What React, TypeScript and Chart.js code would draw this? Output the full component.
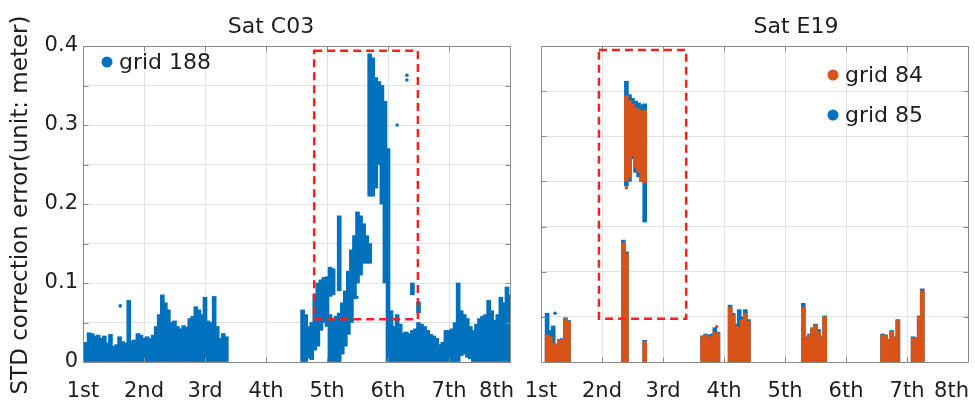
import React, { useEffect, useRef } from 'react';
import { Chart, registerables } from 'chart.js';

Chart.register(...registerables);

// ---------- labels ----------
const dayLabels = ['1st', '2nd', '3rd', '4th', '5th', '6th', '7th', '8th'];
const yTickLabels = ['0', '0.1', '0.2', '0.3', '0.4'];
const yAxisTitle = 'STD correction error(unit: meter)';
const c03Title = 'Sat C03';
const e19Title = 'Sat E19';

// ---------- Sat C03, grid 188 (dense point cloud read as low/high per time slot) ----------
const c03Day = [
  1.0, 1.05, 1.1, 1.15, 1.2, 1.25, 1.3, 1.35, 1.4, 1.45, 1.5, 1.55, 1.6, 1.65, 1.7, 1.75, 1.8, 1.85, 1.9, 1.95,
  2.0, 2.05, 2.1, 2.15, 2.2, 2.25, 2.3, 2.35, 2.4, 2.45, 2.5, 2.55, 2.6, 2.65, 2.7, 2.75, 2.8, 2.85, 2.9, 2.95,
  3.0, 3.05, 3.1, 3.15, 3.2, 3.25, 3.3, 3.35,
  4.6, 4.65, 4.7, 4.75, 4.8, 4.85, 4.9, 4.95, 5.0, 5.05, 5.1, 5.15, 5.2, 5.25, 5.3, 5.35, 5.4, 5.45, 5.5, 5.55,
  5.6, 5.65, 5.7, 5.75, 5.8, 5.85, 5.9, 5.95, 6.0,
  6.05, 6.1, 6.15, 6.2, 6.25, 6.3, 6.35, 6.4, 6.45, 6.5, 6.55, 6.6, 6.65, 6.7, 6.75, 6.8, 6.85, 6.9, 6.95, 7.0,
  7.05, 7.1, 7.15, 7.2, 7.25, 7.3, 7.35, 7.4, 7.45, 7.5, 7.55, 7.6, 7.65, 7.7, 7.75, 7.8, 7.85, 7.9, 7.95, 8.0,
];
const c03Low = [
  0, 0, 0, 0, 0, 0, 0, 0, 0, 0, 0, 0, 0, 0, 0, 0, 0, 0, 0, 0,
  0, 0, 0, 0, 0, 0, 0, 0, 0, 0, 0, 0, 0, 0, 0, 0, 0, 0, 0, 0,
  0, 0, 0, 0, 0, 0, 0, 0,
  0, 0, 0.005, 0.003, 0.015, 0.02, 0.04, 0.05, 0.045, 0, 0, 0, 0, 0.01, 0.02, 0.035, 0.05, 0.08, 0.1, 0.11,
  0.125, 0.125, 0.125, 0.21, 0.22, 0.25, 0.2, 0.1, 0,
  0, 0, 0, 0, 0, 0, 0, 0, 0, 0, 0, 0, 0, 0, 0, 0, 0, 0, 0, 0,
  0, 0, 0, 0.008, 0.01, 0.006, 0.004, 0, 0, 0, 0, 0, 0, 0, 0, 0, 0, 0, 0, 0,
];
const c03High = [
  0.022, 0.025, 0.037, 0.036, 0.033, 0.034, 0.03, 0.033, 0.024, 0.035, 0.02, 0.022, 0.032, 0.026, 0.024, 0.078, 0.027, 0.028, 0.036, 0.034,
  0.03, 0.032, 0.03, 0.034, 0.045, 0.06, 0.085, 0.075, 0.066, 0.05, 0.052, 0.045, 0.042, 0.046, 0.044, 0.055, 0.058, 0.07, 0.066, 0.06,
  0.082, 0.052, 0.05, 0.083, 0.045, 0.03, 0.036, 0.032,
  0.066, 0.06, 0.045, 0.05, 0.085, 0.1, 0.104, 0.107, 0.108, 0.06, 0.055, 0.058, 0.062, 0.075, 0.09, 0.115, 0.142, 0.16, 0.19, 0.185,
  0.175, 0.16, 0.15, 0.385, 0.36, 0.355, 0.35, 0.33, 0.27,
  0.065, 0.045, 0.06, 0.048, 0.037, 0.038, 0.036, 0.04, 0.042, 0.05, 0.048, 0.045, 0.04, 0.035, 0.033, 0.03, 0.022, 0.025, 0.04, 0.04,
  0.042, 0.05, 0.1, 0.065, 0.06, 0.055, 0.045, 0.04, 0.048, 0.055, 0.058, 0.06, 0.078, 0.065, 0.053, 0.06, 0.082, 0.075, 0.095, 0.085,
];
// detached clusters above the main band
const c03ExtraDay = [5.05, 5.1, 5.2, 5.7, 6.4, 6.5];
const c03ExtraLow = [0.083, 0.085, 0.09, 0.21, 0.085, 0.062];
const c03ExtraHigh = [0.12, 0.118, 0.185, 0.39, 0.1, 0.076];
// isolated points
const c03DotDay = [1.61, 5.49, 6.15, 6.31, 6.31];
const c03DotValue = [0.071, 0.082, 0.3, 0.357, 0.363];
// highlighted region [x0, x1, y0, y1]
const c03Box = [4.79, 6.49, 0.054, 0.394];

// ---------- Sat E19, grid 84 / grid 85 ----------
const e19Day = [
  1.1, 1.15, 1.2, 1.25, 1.3, 1.35, 1.4, 1.45,
  2.35, 2.4,
  2.7,
  3.65, 3.7, 3.75, 3.8, 3.85, 3.9,
  4.1, 4.15, 4.2, 4.25, 4.3, 4.35, 4.4,
  5.3, 5.35, 5.4, 5.45, 5.5, 5.55, 5.6, 5.65,
  6.6, 6.65, 6.7, 6.75, 6.8, 6.85,
  7.1, 7.15, 7.2, 7.25,
];
const g84High = [
  0.03, 0.028, 0.021, 0.019, 0.024, 0.025, 0.048, 0.045,
  0.132, 0.12,
  0.023,
  0.028, 0.03, 0.027, 0.029, 0.033, 0.032,
  0.061, 0.052, 0.04, 0.038, 0.047, 0.054, 0.045,
  0.061, 0.027, 0.03, 0.037, 0.041, 0.033, 0.027, 0.05,
  0.03, 0.029, 0.024, 0.034, 0.027, 0.046,
  0.027, 0.026, 0.05, 0.079,
];
const g85High = [
  0.054, 0.035, 0.04, 0.02, 0.025, 0.026, 0.049, 0.046,
  0.135, 0.122,
  0.024,
  0.029, 0.031, 0.03, 0.031, 0.038, 0.033,
  0.063, 0.054, 0.042, 0.058, 0.05, 0.058, 0.047,
  0.065, 0.028, 0.031, 0.038, 0.042, 0.036, 0.028, 0.051,
  0.031, 0.03, 0.025, 0.035, 0.028, 0.047,
  0.028, 0.027, 0.051, 0.081,
];
const e19UpperDay = [2.4, 2.45, 2.5, 2.55, 2.6, 2.65, 2.7];
const g84UpperLow = [0.2, 0.205, 0.228, 0.215, 0.21, 0.2, 0.198];
const g84UpperHigh = [0.295, 0.29, 0.286, 0.282, 0.28, 0.278, 0.279];
const g85UpperLow = [0.195, 0.2, 0.225, 0.21, 0.205, 0.2, 0.155];
const g85UpperHigh = [0.311, 0.296, 0.292, 0.289, 0.287, 0.285, 0.286];
const g84DotDay = [2.4, 3.88];
const g84DotValue = [0.193, 0.039];
const g85DotDay = [1.23];
const g85DotValue = [0.054];
const e19Box = [1.95, 3.38, 0.048, 0.3456];

// ---------- styles ----------
const FONT = "'DejaVu Sans', 'Liberation Sans', sans-serif";
const BLUE = '#0072BD';
const ORANGE = '#D95319';
const GRID = '#e2e2e2';
const AXIS = '#8a8a8a';
const TEXT = '#1e1e1e';
const RED = '#ff1e1e';

const bars = (day: number[], low: number[], high: number[]) =>
  day.map((d, i) => ({ x: d, y: [low[i], high[i]] }));
const barsFromFloor = (day: number[], high: number[]) =>
  day.map((d, i) => ({ x: d, y: [0, high[i]] }));
const dots = (day: number[], val: number[]) => day.map((d, i) => ({ x: d, y: val[i] }));

const barStyle = (color: string, order: number) => ({
  type: 'bar' as const,
  backgroundColor: color,
  borderWidth: 0,
  grouped: false,
  barThickness: 4,
  clip: 0,
  order,
});
const dotStyle = (color: string, order: number) => ({
  type: 'scatter' as const,
  backgroundColor: color,
  borderWidth: 0,
  pointRadius: 1.8,
  clip: 0,
  order,
});

interface PanelSpec {
  title: string;
  titleDx: number;
  yMax: number;
  showYLabels: boolean;
  yAxisWidth: number;
  padRight: number;
  box: number[];
  legend: { label: string; color: string }[];
  legendSide: 'left' | 'right';
  yTitle?: string;
  datasets: any[];
}

function decorPlugin(spec: PanelSpec) {
  return {
    id: 'panelDecor',
    afterDatasetsDraw(chart: any) {
      const { ctx, chartArea: a, scales } = chart;
      const xs = scales.x;
      const ys = scales.y;
      ctx.save();
      // frame with inward ticks
      const L = Math.round(a.left) + 0.5;
      const R = Math.round(a.right) + 0.5;
      const T = Math.round(a.top) + 0.5;
      const B = Math.round(a.bottom) + 0.5;
      ctx.strokeStyle = AXIS;
      ctx.lineWidth = 1;
      ctx.setLineDash([]);
      ctx.beginPath();
      ctx.moveTo(L, T); ctx.lineTo(R, T); ctx.lineTo(R, B); ctx.lineTo(L, B); ctx.closePath();
      xs.ticks.forEach((t: any) => {
        const p = Math.round(xs.getPixelForValue(t.value)) + 0.5;
        ctx.moveTo(p, T); ctx.lineTo(p, T + 5);
        ctx.moveTo(p, B); ctx.lineTo(p, B - 5);
      });
      ys.ticks.forEach((t: any) => {
        const p = Math.round(ys.getPixelForValue(t.value)) + 0.5;
        ctx.moveTo(L, p); ctx.lineTo(L + 5, p);
        ctx.moveTo(R, p); ctx.lineTo(R - 5, p);
      });
      ctx.stroke();

      // red dashed highlight box
      const bx0 = xs.getPixelForValue(spec.box[0]);
      const bx1 = xs.getPixelForValue(spec.box[1]);
      const by0 = ys.getPixelForValue(spec.box[2]);
      const by1 = ys.getPixelForValue(spec.box[3]);
      ctx.strokeStyle = RED;
      ctx.lineWidth = 2.5;
      ctx.setLineDash([8, 5]);
      ctx.strokeRect(bx0, by1, bx1 - bx0, by0 - by1);
      ctx.setLineDash([]);

      // legend
      ctx.font = `22px ${FONT}`;
      ctx.textAlign = 'left';
      ctx.textBaseline = 'alphabetic';
      spec.legend.forEach((item, i) => {
        const mx = spec.legendSide === 'left' ? a.left + 24 : a.right - 135;
        const my = spec.legendSide === 'left' ? a.top + 16 : a.top + 29 + i * 40;
        ctx.fillStyle = item.color;
        ctx.beginPath();
        ctx.arc(mx, my, 5.5, 0, Math.PI * 2);
        ctx.fill();
        ctx.fillStyle = TEXT;
        ctx.fillText(item.label, mx + 12, my + 7);
      });
      ctx.restore();
    },
    afterDraw(chart: any) {
      const { ctx, chartArea: a, scales } = chart;
      const xs = scales.x;
      ctx.save();
      ctx.fillStyle = TEXT;
      // title
      ctx.font = `22px ${FONT}`;
      ctx.textAlign = 'center';
      ctx.textBaseline = 'middle';
      ctx.fillText(spec.title, a.left + spec.titleDx, 27);
      // x tick labels
      ctx.font = `21px ${FONT}`;
      ctx.textBaseline = 'alphabetic';
      dayLabels.forEach((lab, i) => {
        const w = ctx.measureText(lab).width;
        let px = xs.getPixelForValue(i + 1);
        px = Math.min(px, chart.width - 6 - w / 2);
        ctx.fillText(lab, px, a.bottom + 35);
      });
      // y axis title
      if (spec.yTitle) {
        ctx.font = `23px ${FONT}`;
        ctx.translate(21, 205);
        ctx.rotate(-Math.PI / 2);
        ctx.textAlign = 'center';
        ctx.textBaseline = 'middle';
        ctx.fillText(spec.yTitle, 0, 0);
      }
      ctx.restore();
    },
  };
}

function panelConfig(spec: PanelSpec): any {
  return {
    type: 'bar',
    data: { datasets: spec.datasets },
    options: {
      responsive: false,
      animation: false,
      events: [],
      layout: { padding: { left: 0, right: spec.padRight, top: 46, bottom: 0 } },
      plugins: { legend: { display: false }, tooltip: { enabled: false }, title: { display: false } },
      scales: {
        x: {
          type: 'linear',
          min: 1,
          max: 8,
          offset: false,
          grid: { color: GRID, lineWidth: 1, drawTicks: false, offset: false },
          border: { display: false },
          ticks: { stepSize: 1, display: false },
          afterFit: (s: any) => { s.height = 38; s.paddingLeft = 0; s.paddingRight = 0; },
        },
        y: {
          type: 'linear',
          min: 0,
          max: spec.yMax,
          stacked: false,
          grid: { color: GRID, lineWidth: 1, drawTicks: false },
          border: { display: false },
          ticks: {
            display: spec.showYLabels,
            stepSize: 0.05,
            autoSkip: false,
            padding: 5,
            color: TEXT,
            font: { family: FONT, size: 21 },
            callback: (v: any) => {
              const k = Math.round(Number(v) * 20);
              return k % 2 === 0 ? yTickLabels[k / 2] : '';
            },
          },
          afterFit: (s: any) => { s.width = spec.yAxisWidth; },
        },
      },
    },
    plugins: [decorPlugin(spec)],
  };
}

const leftSpec: PanelSpec = {
  title: c03Title,
  titleDx: 188,
  yMax: 0.4,
  showYLabels: true,
  yAxisWidth: 83,
  padRight: 10,
  box: c03Box,
  legend: [{ label: 'grid 188', color: BLUE }],
  legendSide: 'left',
  yTitle: yAxisTitle,
  datasets: [
    { ...barStyle(BLUE, 1), data: bars(c03Day, c03Low, c03High) },
    { ...barStyle(BLUE, 1), data: bars(c03ExtraDay, c03ExtraLow, c03ExtraHigh) },
    { ...dotStyle(BLUE, 0), data: dots(c03DotDay, c03DotValue) },
  ],
};

const rightSpec: PanelSpec = {
  title: e19Title,
  titleDx: 255,
  yMax: 0.35,
  showYLabels: false,
  yAxisWidth: 21,
  padRight: 7,
  box: e19Box,
  legend: [
    { label: 'grid 84', color: ORANGE },
    { label: 'grid 85', color: BLUE },
  ],
  legendSide: 'right',
  datasets: [
    { ...barStyle(BLUE, 3), data: barsFromFloor(e19Day, g85High) },
    { ...barStyle(BLUE, 3), data: bars(e19UpperDay, g85UpperLow, g85UpperHigh) },
    { ...dotStyle(BLUE, 2), data: dots(g85DotDay, g85DotValue) },
    { ...barStyle(ORANGE, 1), data: barsFromFloor(e19Day, g84High) },
    { ...barStyle(ORANGE, 1), data: bars(e19UpperDay, g84UpperLow, g84UpperHigh) },
    { ...dotStyle(ORANGE, 0), data: dots(g84DotDay, g84DotValue) },
  ],
};

export default function App() {
  const leftRef = useRef<HTMLCanvasElement>(null);
  const rightRef = useRef<HTMLCanvasElement>(null);

  useEffect(() => {
    const c1 = new Chart(leftRef.current as HTMLCanvasElement, panelConfig(leftSpec));
    const c2 = new Chart(rightRef.current as HTMLCanvasElement, panelConfig(rightSpec));
    return () => {
      c1.destroy();
      c2.destroy();
    };
  }, []);

  return (
    <div style={{ position: 'absolute', left: 0, top: 0, width: 975, height: 400, background: '#fff', overflow: 'hidden' }}>
      <canvas
        ref={leftRef}
        width={520}
        height={400}
        style={{ position: 'absolute', left: 0, top: 0, width: 520, height: 400 }}
      />
      <canvas
        ref={rightRef}
        width={455}
        height={400}
        style={{ position: 'absolute', left: 520, top: 0, width: 455, height: 400 }}
      />
    </div>
  );
}
